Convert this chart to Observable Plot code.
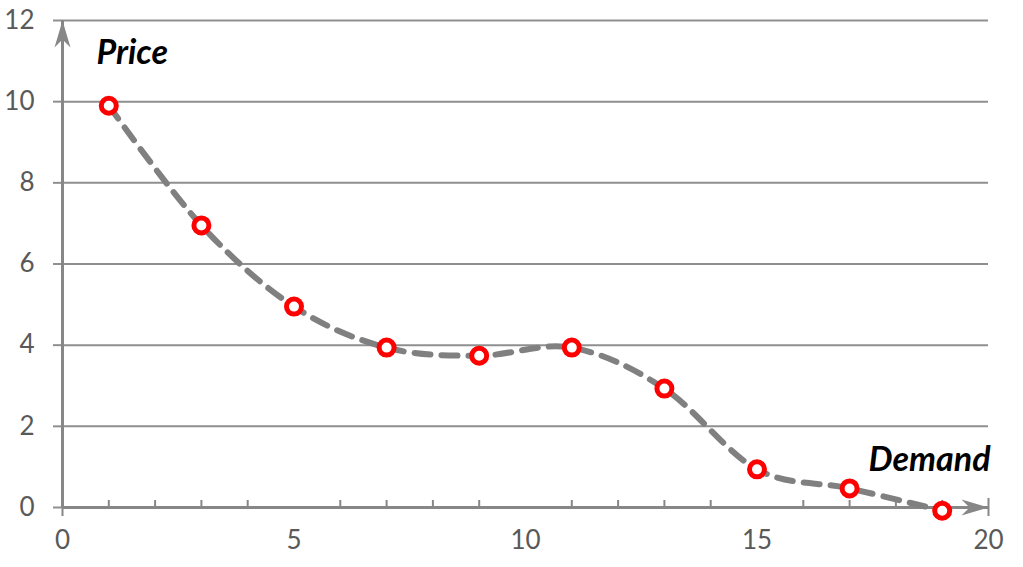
<!DOCTYPE html>
<html><head><meta charset="utf-8">
<script src="https://cdn.jsdelivr.net/npm/d3@7"></script>
<script src="https://cdn.jsdelivr.net/npm/@observablehq/plot@0.6"></script>
<style>
body{margin:0;background:#fff}
#chart svg g[aria-label$="tick label"], #chart svg g[aria-label$="tick label"] text { font-size: 26px !important; }
</style>
</head><body><div id="chart"></div>
<script>
const demand = [1, 3, 5, 7, 9, 11, 13, 15, 17, 19];
const price = [9.9, 6.95, 4.95, 3.94, 3.74, 3.94, 2.93, 0.94, 0.47, -0.08];
const xTicks = [0, 5, 10, 15, 20];
const yTicks = [0, 2, 4, 6, 8, 10, 12];
const xMinor = [1, 2, 3, 4, 6, 7, 8, 9, 11, 12, 13, 14, 16, 17, 18, 19];
const axisEnds = [{x: 0, y: 12, angle: 0}, {x: 20, y: 0, angle: 90}];
const data = demand.map((d, i) => ({demand: d, price: price[i]}));
const gray = "#878787", textGray = "#595959";
// stealth arrowhead symbol, tip at the anchor point, pointing up
const stealth = {
  draw(ctx) {
    ctx.moveTo(0, 0);
    ctx.lineTo(8, 27);
    ctx.lineTo(0, 19);
    ctx.lineTo(-8, 27);
    ctx.closePath();
  }
};
const chart = Plot.plot({
  width: 1023, height: 567,
  marginLeft: 62, marginRight: 35, marginTop: 20, marginBottom: 60,
  x: {domain: [0, 20]},
  y: {domain: [0, 12]},
  style: {fontFamily: "Lato, 'Open Sans', sans-serif", background: "#fff"},
  marks: [
    Plot.gridY(yTicks, {stroke: "#8f8f8f", strokeOpacity: 1, strokeWidth: 2}),
    Plot.axisY(yTicks, {tickSize: 9, stroke: "#8f8f8f", strokeWidth: 2, text: null, label: null}),
    Plot.axisY(yTicks, {tickSize: 0, tickPadding: 28, fontSize: 26, fill: textGray, label: null}),
    Plot.axisX(xTicks, {tickSize: 0, tickPadding: 23, fontSize: 26, fill: textGray, label: null}),
    Plot.axisX(xMinor, {tickSize: -7, stroke: gray, strokeWidth: 2, text: null, label: null}),
    Plot.axisX([0, 20], {tickSize: 9, stroke: gray, strokeWidth: 2, text: null, label: null}),
    Plot.axisX([0, 20], {tickSize: -9, stroke: gray, strokeWidth: 2, text: null, label: null}),
    Plot.ruleX([0], {y1: 0, y2: 12, stroke: gray, strokeWidth: 3}),
    Plot.ruleY([0], {x1: 0, x2: 20, stroke: gray, strokeWidth: 3}),
    Plot.dot(axisEnds, {x: "x", y: "y", rotate: "angle", symbol: stealth, fill: gray, stroke: "none"}),
    Plot.line(data, {x: "demand", y: "price", curve: "cardinal", stroke: "#808080", strokeWidth: 6, strokeDasharray: "16,11", strokeLinecap: "round"}),
    Plot.dot(data, {x: "demand", y: "price", r: 7.5, stroke: "#ff0000", strokeWidth: 5, fill: "#fff", symbol: "circle"}),
    Plot.text(["Price"], {frameAnchor: "top-left", dx: 34, dy: 19, textAnchor: "start", fontSize: 34, fontWeight: "bold", fontStyle: "italic", fill: "#000"}),
    Plot.text(["Demand"], {frameAnchor: "bottom-right", dx: 2, dy: -37, textAnchor: "end", fontSize: 34, fontWeight: "bold", fontStyle: "italic", fill: "#000"})
  ]
});
document.getElementById("chart").appendChild(chart);
</script></body></html>
